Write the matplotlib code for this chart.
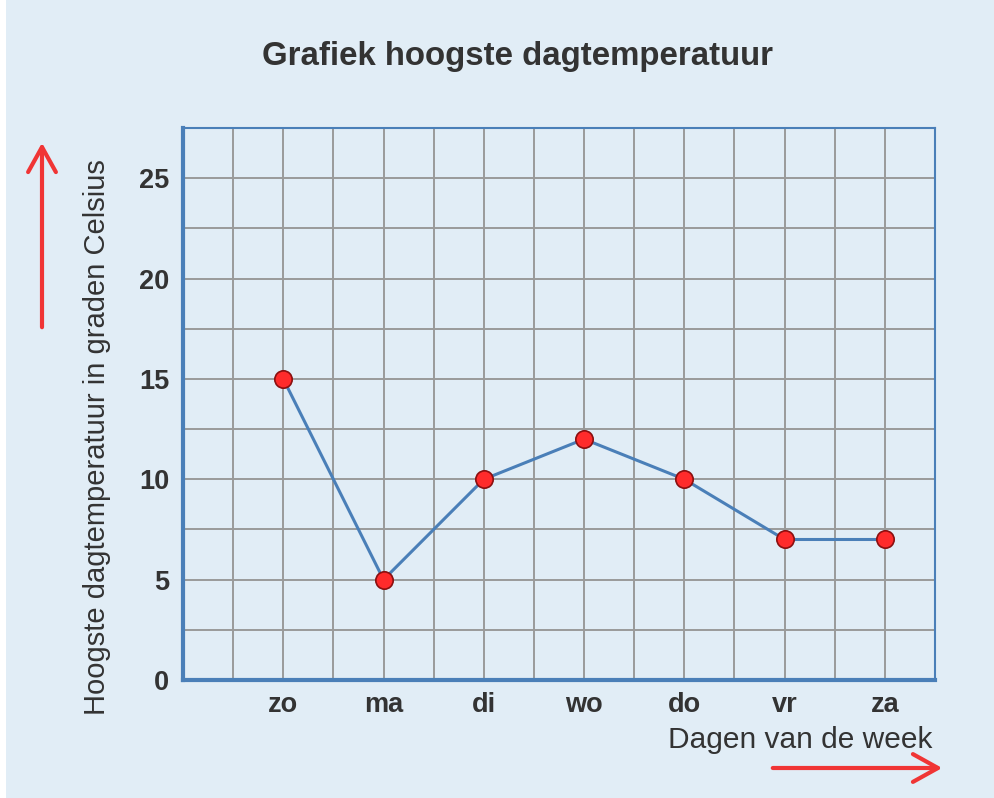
import matplotlib.pyplot as plt
from matplotlib.patches import Rectangle

# data
days = ['zo', 'ma', 'di', 'wo', 'do', 'vr', 'za']
temps = [15, 5, 10, 12, 10, 7, 7]
y_ticks = [0, 5, 10, 15, 20, 25]

plt.rcParams['font.family'] = ['Liberation Sans', 'DejaVu Sans']

bg = '#e1edf6'
blue = '#4a7fb8'
red = '#ff2b2b'

fig = plt.figure(figsize=(9.95, 7.98), dpi=100, facecolor=bg)
# thin white strip on the left like the screenshot
fig.patches.append(Rectangle((0, 0), 6 / 995, 1, transform=fig.transFigure,
                             facecolor='white', edgecolor='none', zorder=0))

ax = fig.add_axes([183 / 995, 118 / 798, 752 / 995, 552 / 798])
ax.set_facecolor(bg)

x = list(range(1, len(days) + 1))
ax.plot(x, temps, color=blue, lw=2.2, zorder=3)
ax.plot(x, temps, 'o', ms=12.5, mfc=red, mec='#8a1010', mew=1.2, zorder=4)

ax.set_xlim(0, 7.5)
ax.set_ylim(0, 27.5)

# grid every half day / 2.5 degrees
ax.set_xticks([i * 0.5 for i in range(1, 15)], minor=True)
ax.set_yticks([i * 2.5 for i in range(1, 11)], minor=True)

ax.set_xticks(x)
ax.set_xticklabels(days)
ax.set_yticks(y_ticks)
ax.grid(which='both', color='#9a9a9a', lw=1.4, zorder=1)
ax.set_axisbelow(True)
ax.tick_params(which='both', length=0)
ax.tick_params(axis='x', pad=9, labelsize=19.5, colors='#333333')
ax.tick_params(axis='y', pad=10, labelsize=19.5, colors='#333333')
for lab in ax.get_xticklabels() + ax.get_yticklabels():
    lab.set_fontweight('bold')

for side in ['left', 'bottom']:
    ax.spines[side].set_color(blue)
    ax.spines[side].set_linewidth(3)
for side in ['top', 'right']:
    ax.spines[side].set_color(blue)
    ax.spines[side].set_linewidth(1.5)

fig.text(518 / 995, 1 - 57 / 798, 'Grafiek hoogste dagtemperatuur',
         ha='center', va='center', fontsize=23.8, fontweight='bold', color='#333333')
fig.text(97 / 995, 1 - 437 / 798, 'Hoogste dagtemperatuur in graden Celsius',
         ha='center', va='center', rotation=90, fontsize=21, color='#333333')
fig.text(932 / 995, 1 - 740 / 798, 'Dagen van de week',
         ha='right', va='center', fontsize=21.5, color='#333333')

# red arrows
arrow = dict(arrowstyle='->,head_length=1.8,head_width=1.0', color='#f03535', lw=3)
ax.annotate('', xy=(42 / 995, 1 - 140 / 798), xytext=(42 / 995, 1 - 330 / 798),
            xycoords='figure fraction', textcoords='figure fraction',
            arrowprops=arrow, annotation_clip=False)
ax.annotate('', xy=(945 / 995, 1 - 768 / 798), xytext=(770 / 995, 1 - 768 / 798),
            xycoords='figure fraction', textcoords='figure fraction',
            arrowprops=arrow, annotation_clip=False)

fig.savefig('out.png', dpi=100, facecolor=bg)
